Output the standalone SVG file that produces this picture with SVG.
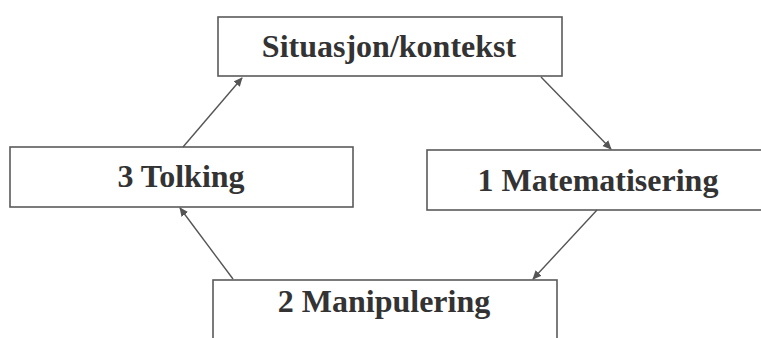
<svg xmlns="http://www.w3.org/2000/svg" width="761" height="338" viewBox="0 0 761 338">
<style>
.box{fill:#fff;stroke:#5a5a5a;stroke-width:1.6}
.lbl{font-family:"Liberation Serif","Times New Roman",serif;font-weight:bold;font-size:32px;fill:#333;text-anchor:middle}
.conn{stroke:#555;stroke-width:1.4;fill:none;marker-end:url(#ah)}
</style>
<defs>
<marker id="ah" viewBox="0 0 10 10" refX="9" refY="5" markerWidth="9" markerHeight="9" markerUnits="userSpaceOnUse" orient="auto">
<path d="M0,0.5 L10,5 L0,9.5 Z" fill="#555"/>
</marker>
</defs>
<rect width="761" height="338" fill="#fff"/>
<g id="node-situasjon">
<rect class="box" x="218" y="17" width="344" height="59"/>
<text class="lbl" x="389" y="57">Situasjon/kontekst</text>
</g>
<g id="node-tolking">
<rect class="box" x="10" y="147" width="343" height="60"/>
<text class="lbl" x="181" y="187">3 Tolking</text>
</g>
<g id="node-matematisering">
<rect class="box" x="427" y="150" width="345" height="60"/>
<text class="lbl" x="598" y="191">1 Matematisering</text>
</g>
<g id="node-manipulering">
<rect class="box" x="213" y="280" width="344" height="70"/>
<text class="lbl" x="384" y="312">2 Manipulering</text>
</g>
<g id="connectors">
<line class="conn" x1="183" y1="147" x2="242" y2="78"/>
<line class="conn" x1="541" y1="77" x2="611" y2="149"/>
<line class="conn" x1="597" y1="210" x2="533" y2="279"/>
<line class="conn" x1="233" y1="279" x2="180" y2="208"/>
</g>
</svg>
